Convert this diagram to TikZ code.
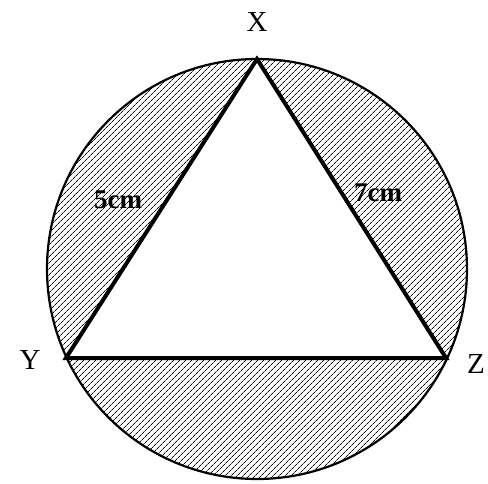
\documentclass[tikz,border=0pt]{standalone}
\usepackage{fontspec}
\setmainfont{Liberation Serif}
\usetikzlibrary{patterns.meta}

\begin{document}
\begin{tikzpicture}[x=1pt,y=-1pt]
 \useasboundingbox (0,0) rectangle (488,483);
 \coordinate (O) at (257,269);
 \coordinate (X) at (257,59);
 \coordinate (Y) at (66,358);
 \coordinate (Z) at (446,358);
 \fill[pattern={Lines[angle=45,distance=4pt,line width=0.8pt]}] (O) circle (210);
 \draw[line width=2.2pt] (O) circle (210);
 \fill[white] (X) -- (Y) -- (Z) -- cycle;
 \draw[line width=4pt,line join=miter] (X) -- (Y) -- (Z) -- cycle;
 \node[font=\fontsize{29}{34}\selectfont] (lx) at (257,22) {X};
 \node[font=\fontsize{29}{34}\selectfont] (ly) at (30,360) {Y};
 \node[font=\fontsize{29}{34}\selectfont] (lz) at (476,364) {Z};
 \node[font=\fontsize{27}{32}\selectfont\bfseries] (a) at (118,200) {5cm};
 \node[font=\fontsize{27}{32}\selectfont\bfseries] (b) at (378,193) {7cm};
\end{tikzpicture}
\end{document}
